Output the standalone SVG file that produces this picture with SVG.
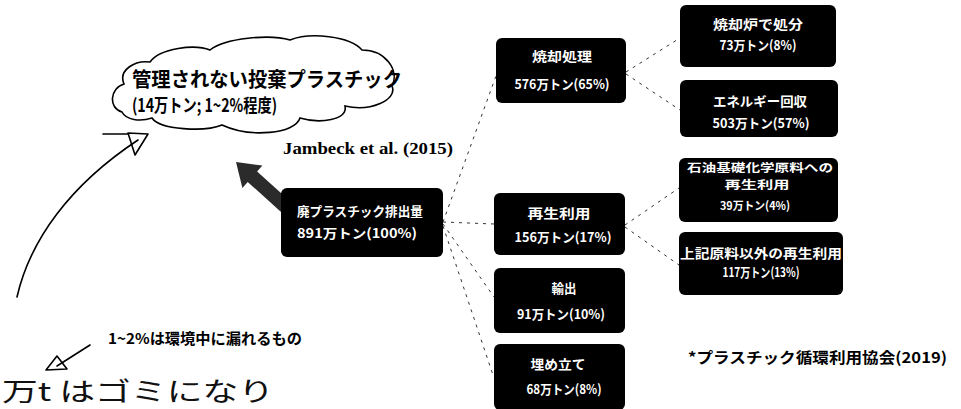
<svg xmlns="http://www.w3.org/2000/svg" width="961" height="409" viewBox="0 0 961 409">
<style>
.box{fill:#000;}
.bt{fill:#fff;font-family:"Noto Sans CJK JP","Noto Sans",sans-serif;font-size:13px;font-weight:bold;text-anchor:middle;}
.bs{font-size:11.5px;}
.con{fill:none;stroke:#333;stroke-width:1;stroke-dasharray:3 5;}
.blk{font-family:"Noto Sans CJK JP","Noto Sans",sans-serif;font-weight:bold;fill:#000;}
.hand{fill:none;stroke:#000;stroke-width:1.6;stroke-linecap:round;stroke-linejoin:round;}
</style>
<rect width="961" height="409" fill="#fff"/>

<g id="connectors">
<line class="con" x1="443" y1="222" x2="496" y2="76"/>
<line class="con" x1="443" y1="222" x2="494" y2="224"/>
<line class="con" x1="443" y1="224" x2="494" y2="297"/>
<line class="con" x1="443" y1="226" x2="493" y2="375"/>
<line class="con" x1="626" y1="72" x2="680" y2="38"/>
<line class="con" x1="626" y1="74" x2="680" y2="110"/>
<line class="con" x1="625" y1="225" x2="679" y2="188"/>
<line class="con" x1="625" y1="227" x2="679" y2="265"/>
</g>

<g id="cloud">
<path d="M122,112 C108,108 110,88 124,84 C118,70 135,60 150,62 C160,48 195,44 210,50 C225,38 270,34 290,40 C310,32 350,36 362,50 C385,50 400,70 392,86 C398,100 370,112 345,106 C348,120 320,124 300,118 C295,134 250,138 222,125 C205,132 160,130 152,118 C140,122 126,120 122,112 Z" fill="#fff" stroke="#000" stroke-width="1.6"/>
<text class="blk" x="132" y="87" font-size="20" textLength="270" lengthAdjust="spacingAndGlyphs">管理されない投棄プラスチック</text>
<text class="blk" x="132" y="112" font-size="18" textLength="145" lengthAdjust="spacingAndGlyphs">(14万トン; 1~2%程度)</text>
</g>

<g id="citation">
<text x="283" y="154" font-family="Liberation Serif, serif" font-weight="bold" font-size="16" textLength="170" lengthAdjust="spacingAndGlyphs">Jambeck et al. (2015)</text>
</g>

<g id="thick-arrow">
<polygon points="290.7,201.8 257.1,171.5 262.4,165.5 236,162 242.4,187.9 247.7,181.9 281.3,212.2" fill="#2b2b2b"/>
</g>

<g id="hand-arrow">
<path class="hand" d="M17,297 C30,240 70,185 138,140"/>
<polygon class="hand" points="128,133 148,134 135,155"/>
<line class="hand" x1="103" y1="134" x2="128" y2="134"/>
</g>

<g id="n-main">
<rect class="box" x="281" y="188" width="162" height="69" rx="6"/>
<text class="bt" x="360" y="216" textLength="126" lengthAdjust="spacingAndGlyphs">廃プラスチック排出量</text>
<text class="bt" x="357" y="238" textLength="120" lengthAdjust="spacingAndGlyphs">891万トン(100%)</text>
</g>

<g id="n-incineration">
<rect class="box" x="496" y="38" width="130" height="65" rx="6"/>
<text class="bt" x="562" y="61" textLength="60" lengthAdjust="spacingAndGlyphs">焼却処理</text>
<text class="bt" x="562" y="89" textLength="95" lengthAdjust="spacingAndGlyphs">576万トン(65%)</text>
</g>

<g id="n-recycle">
<rect class="box" x="494" y="193" width="131" height="62" rx="6"/>
<text class="bt" x="559" y="218" textLength="63" lengthAdjust="spacingAndGlyphs">再生利用</text>
<text class="bt" x="563" y="242" textLength="97" lengthAdjust="spacingAndGlyphs">156万トン(17%)</text>
</g>

<g id="n-export">
<rect class="box" x="494" y="268" width="131" height="65" rx="6"/>
<text class="bt" x="564" y="293" textLength="25" lengthAdjust="spacingAndGlyphs">輸出</text>
<text class="bt" x="561" y="319" textLength="88" lengthAdjust="spacingAndGlyphs">91万トン(10%)</text>
</g>

<g id="n-landfill">
<rect class="box" x="494" y="344" width="131" height="66" rx="6"/>
<text class="bt" x="558" y="369" textLength="55" lengthAdjust="spacingAndGlyphs">埋め立て</text>
<text class="bt" x="564" y="394" textLength="75" lengthAdjust="spacingAndGlyphs">68万トン(8%)</text>
</g>

<g id="n-furnace">
<rect class="box" x="680" y="5" width="156" height="62" rx="6"/>
<text class="bt" x="758" y="29" textLength="90" lengthAdjust="spacingAndGlyphs">焼却炉で処分</text>
<text class="bt" x="758" y="50" textLength="77" lengthAdjust="spacingAndGlyphs">73万トン(8%)</text>
</g>

<g id="n-energy">
<rect class="box" x="680" y="80" width="158" height="57" rx="6"/>
<text class="bt" x="760" y="106" textLength="94" lengthAdjust="spacingAndGlyphs">エネルギー回収</text>
<text class="bt" x="761" y="128" textLength="97" lengthAdjust="spacingAndGlyphs">503万トン(57%)</text>
</g>

<g id="n-feedstock">
<rect class="box" x="679" y="158" width="159" height="64" rx="6"/>
<text class="bt bs" x="760" y="172" textLength="146" lengthAdjust="spacingAndGlyphs">石油基礎化学原料への</text>
<text class="bt bs" x="757" y="189" textLength="65" lengthAdjust="spacingAndGlyphs">再生利用</text>
<text class="bt bs" x="755" y="210" textLength="70" lengthAdjust="spacingAndGlyphs">39万トン(4%)</text>
</g>

<g id="n-other">
<rect class="box" x="679" y="232" width="164" height="63" rx="6"/>
<text class="bt" x="761" y="258" textLength="162" lengthAdjust="spacingAndGlyphs">上記原料以外の再生利用</text>
<text class="bt" x="761" y="277" textLength="77" lengthAdjust="spacingAndGlyphs">117万トン(13%)</text>
</g>

<g id="note-leak">
<text class="blk" x="108" y="344" font-size="15" textLength="194" lengthAdjust="spacingAndGlyphs">1~2%は環境中に漏れるもの</text>
<path class="hand" d="M90,345 L57,366"/>
<polygon class="hand" points="46,370 67,369 57,356"/>
</g>

<g id="handwritten">
<text x="2" y="401" font-family="Noto Sans CJK JP, sans-serif" font-size="26" fill="#111" textLength="272" lengthAdjust="spacingAndGlyphs">万t はゴミになり</text>
</g>

<g id="source">
<text class="blk" x="688" y="363" font-size="15" textLength="259" lengthAdjust="spacingAndGlyphs">*プラスチック循環利用協会(2019)</text>
</g>
</svg>
